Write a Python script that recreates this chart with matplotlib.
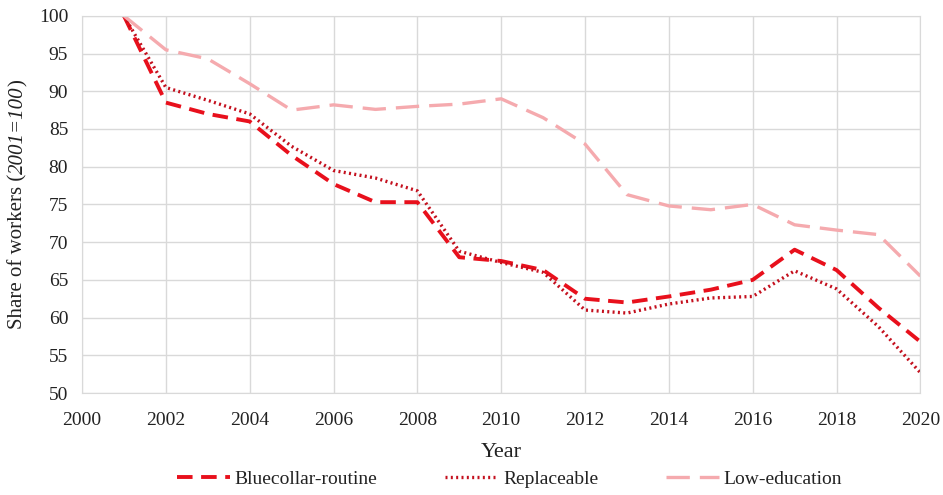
import matplotlib
matplotlib.use("Agg")
import matplotlib.pyplot as plt

years = list(range(2001, 2021))
bluecollar = [100, 88.5, 87.0, 86.0, 81.5, 77.7, 75.3, 75.3, 68.0, 67.5,
              66.3, 62.5, 62.0, 62.8, 63.7, 65.0, 69.0, 66.3, 61.3, 56.8]
replaceable = [100, 90.5, 88.8, 87.0, 82.7, 79.5, 78.5, 76.8, 68.8, 67.3,
               66.0, 61.0, 60.6, 61.8, 62.6, 62.8, 66.2, 63.8, 58.8, 52.7]
low_education = [100, 95.5, 94.3, 91.0, 87.5, 88.2, 87.6, 88.0, 88.3, 89.0,
                 86.5, 83.0, 76.3, 74.8, 74.3, 75.0, 72.3, 71.6, 71.0, 65.5]
xticks = list(range(2000, 2021, 2))
yticks = list(range(50, 101, 5))
ylabel_parts = [("Share of workers (", "normal"), ("2001=100", "italic"), (")", "normal")]

plt.rcParams['font.family'] = ['Liberation Serif', 'DejaVu Serif']

fig = plt.figure(figsize=(9.43, 4.95), dpi=100)
ax = fig.add_axes([0.087, 0.206, 0.889, 0.762])

ax.plot(years, bluecollar, color='#E8101C', lw=2.8, dashes=(4, 2.2),
        label='Bluecollar-routine')
ax.plot(years, replaceable, color='#C4101E', lw=2.4, dashes=(0.6, 1.0),
        label='Replaceable')
ax.plot(years, low_education, color='#F5AAAE', lw=2.4, dashes=(7, 3),
        label='Low-education')

ax.set_xlim(2000, 2020)
ax.set_ylim(50, 100)
ax.set_xticks(xticks)
ax.set_yticks(yticks)
ax.grid(True, color='#D9D9D9', lw=1)
ax.set_axisbelow(True)
for s in ax.spines.values():
    s.set_color('#D9D9D9')
ax.tick_params(length=0, labelsize=14, colors='#222222')
ax.tick_params(axis='x', pad=14)
ax.tick_params(axis='y', pad=10)
ax.set_xlabel('Year', fontsize=16, color='#222222', labelpad=10)

# y label composed of upright and italic parts
fig.canvas.draw()
renderer = fig.canvas.get_renderer()
texts = []
for s, st in ylabel_parts:
    t = fig.text(0, 0, s, rotation=90, fontsize=15, fontstyle=st,
                 color='#222222', ha='center', va='bottom')
    texts.append(t)
heights = [t.get_window_extent(renderer).height for t in texts]
total = sum(heights)
fig_h = fig.bbox.height
fig_w = fig.bbox.width
ax_bb = ax.get_window_extent(renderer)
yc = (ax_bb.y0 + ax_bb.y1) / 2
y = yc - total / 2
x_px = 18
for t, h in zip(texts, heights):
    t.set_position((x_px / fig_w, y / fig_h))
    y += h

leg = ax.legend(loc='center', bbox_to_anchor=(0.51, -0.228), ncol=3,
                frameon=False, fontsize=14, handlelength=2.7,
                columnspacing=3.5, handletextpad=0.26)
for t in leg.get_texts():
    t.set_color('#222222')

fig.savefig('out.png', dpi=100)
